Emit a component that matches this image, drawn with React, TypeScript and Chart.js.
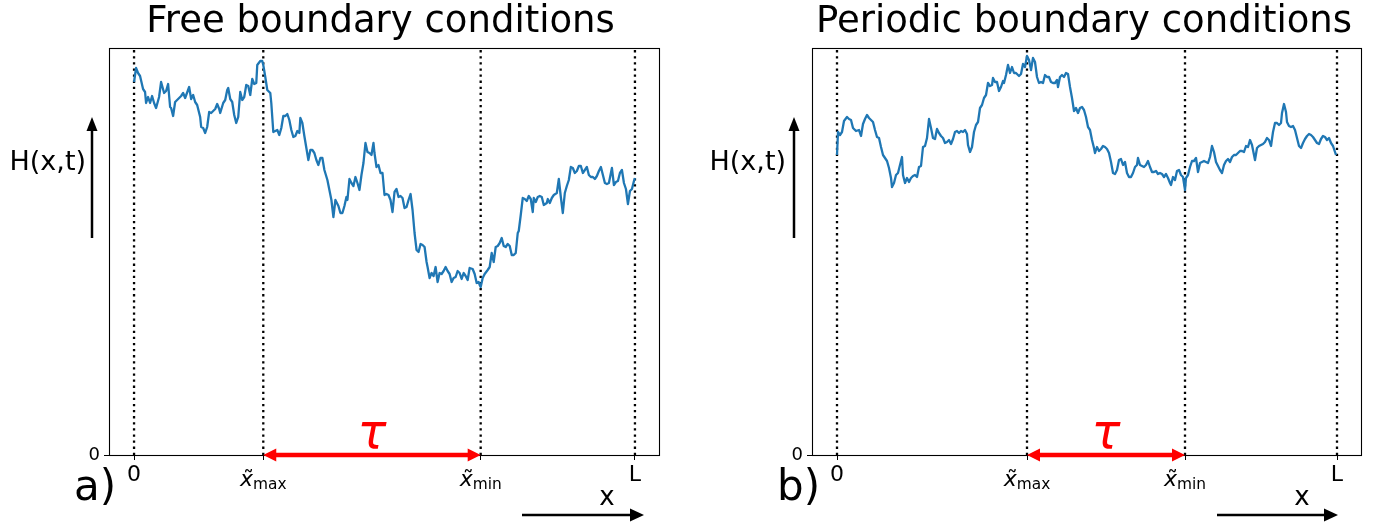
import React, { useEffect, useRef } from 'react';
import { Chart, registerables } from 'chart.js';

Chart.register(...registerables);
Chart.defaults.font.family = '"DejaVu Sans", sans-serif';

// ---------- data ----------
const L = 500;
const Y_MAX = 407;

const freeX = [0,2,4,6,9,11,12,14,16,18,20,22,25,27,30,32,34,36,37,39,41,44,47,49,51,55,57,59,61,63,66,67,69,71,73,75,77,79,81,83,85,86,89,91,93,94,96,98,100,102,104,106,108,110,112,114,116,118,120,122,123,126,128,129,131,133,136,137,139,141,143,145,147,149,151,153,155,157,159,161,163,165,166,168,170,172,174,176,178,180,182,184,186,188,190,193,195,197,199,201,204,206,208,210,212,213,215,217,219,221,223,225,227,229,231,233,235,237,239,240,242,244,246,248,250,252,254,256,258,260,262,264,266,268,270,272,274,276,278,280,282,284,286,288,290,292,293,295,297,299,301,303,305,307,309,311,313,315,317,319,321,323,325,327,329,331,333,335,338,340,342,344,345,346,348,350,353,355,357,359,361,363,365,367,369,371,373,375,377,379,381,383,384,386,388,390,392,394,396,398,399,401,403,405,407,409,412,413,415,417,419,422,424,426,428,430,432,434,436,438,440,442,444,446,448,450,452,454,456,458,460,462,464,466,468,470,472,474,477,479,481,483,485,487,489,491,493,495,497,499,500];
const freeH = [373,387,382,379,366,363,352,358,352,359,352,347,358,373,362,364,371,348,347,339,353,356,359,362,357,368,356,360,353,350,338,328,327,322,328,343,342,344,346,351,346,342,352,355,365,367,356,353,340,332,338,363,355,358,370,369,360,376,371,372,390,394,394,390,378,365,362,352,323,324,325,320,327,339,339,341,335,325,318,319,324,322,337,332,319,307,295,305,305,302,295,290,297,297,285,275,265,255,238,255,249,242,242,249,258,255,276,272,269,278,272,265,280,292,312,303,302,300,312,302,288,290,282,282,260,261,260,255,243,263,266,258,259,257,247,248,255,261,245,222,205,203,211,210,208,193,188,177,182,179,188,173,182,181,184,188,184,181,173,177,178,184,182,176,182,179,175,187,186,181,172,173,170,168,177,181,185,188,202,193,208,209,212,217,209,208,211,209,200,200,202,222,224,240,257,256,254,259,256,243,257,253,258,259,258,250,252,256,252,257,260,262,276,258,242,262,269,275,288,287,282,284,289,289,282,285,288,280,278,278,276,279,284,288,280,272,271,272,287,270,273,274,282,285,272,266,251,264,266,274,277];

const periodicX = [0,1,3,5,7,10,12,14,16,19,22,24,26,28,30,32,34,36,38,40,42,44,46,48,50,52,54,55,57,59,61,63,65,66,68,70,72,74,76,78,80,82,84,86,88,90,92,94,96,98,100,102,104,106,108,110,112,114,116,118,120,122,124,126,128,130,131,133,135,137,139,141,143,145,147,149,151,153,155,156,158,160,162,164,166,167,169,171,173,175,177,179,182,184,186,188,190,192,194,196,198,200,202,204,206,208,210,212,214,216,218,220,221,223,225,227,229,231,233,235,237,239,241,243,245,247,249,251,253,255,257,258,260,262,264,266,268,270,272,274,276,278,280,282,284,286,288,290,292,294,296,298,300,301,303,305,307,309,311,313,315,317,319,321,323,325,327,329,331,333,334,336,338,340,342,344,346,348,349,351,353,355,357,359,361,363,365,367,369,371,373,375,377,379,381,383,385,387,389,391,393,395,397,399,401,403,405,407,409,411,413,415,417,418,420,422,424,426,428,430,432,434,436,438,440,442,444,445,447,449,450,452,454,456,458,460,462,464,466,468,470,472,474,476,478,480,482,484,486,488,490,492,494,496,497,499];
const periodicH = [300,323,320,323,334,338,336,335,327,324,325,319,331,336,340,337,335,333,325,318,317,308,300,297,294,287,277,268,272,280,282,290,298,280,272,277,273,277,279,280,278,288,289,308,309,317,336,327,317,316,326,322,319,317,312,313,315,311,316,323,324,322,324,323,325,321,310,303,308,323,330,333,347,350,357,360,372,369,370,377,373,373,364,368,374,372,380,390,382,388,382,382,379,381,391,388,399,395,385,397,393,378,372,373,372,380,378,378,373,372,372,375,368,378,380,378,382,381,368,357,344,347,342,347,348,345,338,328,325,315,307,302,308,304,306,309,308,306,302,293,282,281,285,295,296,290,293,282,278,278,282,288,290,297,290,289,288,290,294,288,283,283,284,281,282,281,278,281,277,272,270,278,275,284,285,280,278,265,277,280,288,294,294,297,283,292,293,294,293,292,298,309,303,293,289,285,282,290,294,296,293,298,300,300,302,304,304,303,309,308,315,310,300,295,307,309,310,311,313,317,315,309,323,332,332,330,332,342,351,343,333,329,328,329,325,317,309,307,312,316,319,321,320,318,315,312,311,316,319,318,315,317,312,309,306,300];

const freeMarks = [0, 129, 346, 500];      // 0, x̃max, x̃min, L
const periodicMarks = [0, 190, 348, 500];  // 0, x̃max, x̃min, L
const xTickLabels = ['0', 'x̃_max', 'x̃_min', 'L'];
const yTicks = [0];
const yTickLabels = ['0'];
const titles = ['Free boundary conditions', 'Periodic boundary conditions'];
const panelLetters = ['a)', 'b)'];
const yAxisLabel = 'H(x,t)';
const xAxisLabel = 'x';
const tauLabel = 'τ';

// ---------- layout (canvas-local pixels) ----------
const CANVAS_W = 690;
const CANVAS_H = 525;

type PanelCfg = {
  xs: number[]; hs: number[]; marks: number[]; title: string; letter: string;
  offsetX: number; areaLeft: number; padRight: number; titleShift: number;
  yArrowX: number; yLabelRight: number; letterX: number; xArrow: [number, number]; xLabelX: number;
};

const panels: PanelCfg[] = [
  { xs: freeX, hs: freeH, marks: freeMarks, title: titles[0], letter: panelLetters[0],
    offsetX: 0, areaLeft: 109, padRight: 30, titleShift: -4,
    yArrowX: 92, yLabelRight: 86, letterX: 74, xArrow: [522, 644], xLabelX: 607 },
  { xs: periodicX, hs: periodicH, marks: periodicMarks, title: titles[1], letter: panelLetters[1],
    offsetX: 690, areaLeft: 122, padRight: 18, titleShift: -3,
    yArrowX: 104, yLabelRight: 96, letterX: 87, xArrow: [527, 648], xLabelX: 612 },
];

function makeDecor(cfg: PanelCfg) {
  return {
    id: 'decor',
    beforeDatasetsDraw(chart: any) {
      const { ctx, chartArea: a } = chart;
      ctx.save();
      ctx.strokeStyle = '#000';
      ctx.lineWidth = 1.1;
      ctx.strokeRect(a.left + 0.5, a.top + 0.5, a.right - a.left - 1, a.bottom - a.top);
      ctx.restore();
    },
    afterDraw(chart: any) {
      const { ctx, chartArea: a } = chart;
      const xs = chart.scales.x;
      ctx.save();

      // title
      ctx.fillStyle = '#000';
      ctx.font = '37px "DejaVu Sans"';
      ctx.textAlign = 'center';
      ctx.textBaseline = 'alphabetic';
      ctx.fillText(cfg.title, (a.left + a.right) / 2 + cfg.titleShift, 32);

      // math tick labels (x̃ with subscript)
      xTickLabels.forEach((lab, i) => {
        if (!lab.includes('_')) return;
        const sub = lab.split('_')[1];
        const cx = xs.getPixelForValue(cfg.marks[i]);
        ctx.font = 'italic 22px "DejaVu Sans"';
        const wx = ctx.measureText('x').width;
        ctx.font = '15.4px "DejaVu Sans"';
        const ws = ctx.measureText(sub).width;
        const sx = cx - (wx + ws) / 2;
        ctx.textAlign = 'left';
        ctx.font = 'italic 22px "DejaVu Sans"';
        ctx.fillText('x', sx, 486);
        ctx.textAlign = 'center';
        ctx.font = '22px "DejaVu Sans"';
        ctx.fillText('˜', sx + wx / 2 + 2, 486);
        ctx.textAlign = 'left';
        ctx.font = '15.4px "DejaVu Sans"';
        ctx.fillText(sub, sx + wx, 489);
      });

      // red tau arrow
      const y0 = a.bottom;
      const t1 = xs.getPixelForValue(cfg.marks[1]);
      const t2 = xs.getPixelForValue(cfg.marks[2]);
      const hl = 13, hw = 6.5;
      ctx.strokeStyle = '#ff0000';
      ctx.fillStyle = '#ff0000';
      ctx.lineWidth = 4.5;
      ctx.beginPath();
      ctx.moveTo(t1 + hl - 2, y0);
      ctx.lineTo(t2 - hl + 2, y0);
      ctx.stroke();
      ctx.beginPath();
      ctx.moveTo(t1, y0); ctx.lineTo(t1 + hl, y0 - hw); ctx.lineTo(t1 + hl, y0 + hw); ctx.closePath(); ctx.fill();
      ctx.beginPath();
      ctx.moveTo(t2, y0); ctx.lineTo(t2 - hl, y0 - hw); ctx.lineTo(t2 - hl, y0 + hw); ctx.closePath(); ctx.fill();
      ctx.font = 'italic 48px "DejaVu Sans"';
      ctx.textAlign = 'center';
      ctx.fillText(tauLabel, (t1 + t2) / 2, 448);

      // y arrow + label
      ctx.fillStyle = '#000';
      ctx.strokeStyle = '#000';
      ctx.lineWidth = 2.5;
      ctx.beginPath();
      ctx.moveTo(cfg.yArrowX, 238);
      ctx.lineTo(cfg.yArrowX, 128);
      ctx.stroke();
      ctx.beginPath();
      ctx.moveTo(cfg.yArrowX, 117); ctx.lineTo(cfg.yArrowX - 5.5, 131); ctx.lineTo(cfg.yArrowX + 5.5, 131); ctx.closePath(); ctx.fill();
      ctx.font = '27px "DejaVu Sans"';
      ctx.textAlign = 'right';
      ctx.fillText(yAxisLabel, cfg.yLabelRight, 170);

      // x arrow + label
      const [xa, xb] = cfg.xArrow;
      ctx.beginPath();
      ctx.moveTo(xa, 515);
      ctx.lineTo(xb - 12, 515);
      ctx.stroke();
      ctx.beginPath();
      ctx.moveTo(xb, 515); ctx.lineTo(xb - 14, 508.5); ctx.lineTo(xb - 14, 521.5); ctx.closePath(); ctx.fill();
      ctx.font = '26px "DejaVu Sans"';
      ctx.textAlign = 'center';
      ctx.fillText(xAxisLabel, cfg.xLabelX, 505);

      // panel letter
      ctx.font = '42px "DejaVu Sans"';
      ctx.textAlign = 'left';
      ctx.fillText(cfg.letter, cfg.letterX, 500);

      ctx.restore();
    },
  };
}

function Panel({ cfg }: { cfg: PanelCfg }) {
  const ref = useRef<HTMLCanvasElement>(null);
  useEffect(() => {
    if (!ref.current) return;
    const curve = cfg.xs.map((x, i) => ({ x, y: cfg.hs[i] }));
    const dotted = cfg.marks.map((m) => ({
      data: [{ x: m, y: 0 }, { x: m, y: Y_MAX }],
      borderColor: '#000000',
      borderWidth: 2.3,
      borderDash: [2.3, 3.8],
      pointRadius: 0,
      order: 1,
    }));
    const chart = new Chart(ref.current, {
      type: 'line',
      data: {
        datasets: [
          {
            data: curve,
            borderColor: '#1f77b4',
            borderWidth: 2.3,
            pointRadius: 0,
            tension: 0,
            borderJoinStyle: 'round',
            order: 0,
          } as any,
          ...dotted,
        ],
      },
      options: {
        animation: false,
        responsive: false,
        events: [],
        layout: { padding: { top: 48, right: cfg.padRight, left: 0, bottom: 0 } },
        plugins: { legend: { display: false }, tooltip: { enabled: false }, title: { display: false } },
        scales: {
          x: {
            type: 'linear',
            min: -0.05 * L,
            max: 1.05 * L,
            afterFit: (s: any) => { s.height = CANVAS_H - 455; },
            afterBuildTicks: (s: any) => { s.ticks = cfg.marks.map((v) => ({ value: v })); },
            ticks: {
              autoSkip: false,
              maxRotation: 0,
              padding: 2,
              color: '#000',
              font: { size: 22, family: '"DejaVu Sans"' },
              callback: (_v: any, i: number) => (xTickLabels[i].includes('_') ? '' : xTickLabels[i]),
            },
            grid: { display: true, drawOnChartArea: false, drawTicks: true, tickLength: 5, color: '#000', lineWidth: 1 },
            border: { display: false },
          },
          y: {
            type: 'linear',
            min: 0,
            max: Y_MAX,
            afterFit: (s: any) => { s.width = cfg.areaLeft; },
            afterBuildTicks: (s: any) => { s.ticks = yTicks.map((v) => ({ value: v })); },
            ticks: {
              padding: 4,
              color: '#000',
              font: { size: 18, family: '"DejaVu Sans"' },
              callback: (_v: any, i: number) => yTickLabels[i],
            },
            grid: { display: true, drawOnChartArea: false, drawTicks: true, tickLength: 5, color: '#000', lineWidth: 1 },
            border: { display: false },
          },
        },
      } as any,
      plugins: [makeDecor(cfg)],
    });
    return () => chart.destroy();
  }, [cfg]);
  return (
    <canvas
      ref={ref}
      width={CANVAS_W}
      height={CANVAS_H}
      style={{ position: 'absolute', left: cfg.offsetX, top: 0, width: CANVAS_W, height: CANVAS_H }}
    />
  );
}

export default function App() {
  return (
    <div style={{ position: 'absolute', left: 0, top: 0, width: 1380, height: 525, background: '#fff' }}>
      {panels.map((p, i) => (
        <Panel key={i} cfg={p} />
      ))}
    </div>
  );
}
